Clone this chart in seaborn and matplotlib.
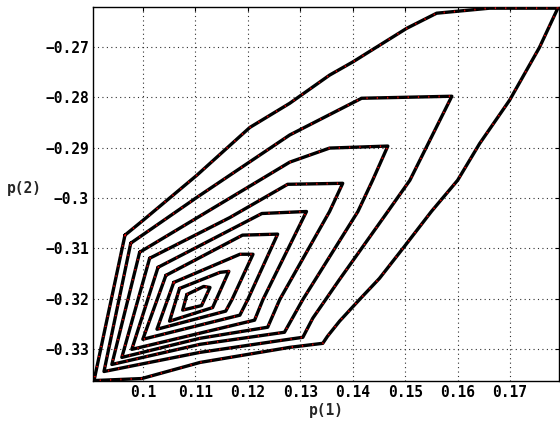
import matplotlib
matplotlib.use("Agg")
import matplotlib.pyplot as plt
import seaborn as sns
import pandas as pd

# contour rings (p(1), p(2)), innermost first
ring1_x = [0.1084, 0.1116, 0.1128, 0.1112, 0.1076, 0.1084]
ring1_y = [-0.3192, -0.3176, -0.3178, -0.3214, -0.3223, -0.3192]
ring2_x = [0.1070, 0.1147, 0.1164, 0.1133, 0.1051, 0.1070]
ring2_y = [-0.3180, -0.3148, -0.3146, -0.3218, -0.3245, -0.3180]
ring3_x = [0.1059, 0.1185, 0.1210, 0.1170, 0.1158, 0.1027, 0.1059]
ring3_y = [-0.3168, -0.3112, -0.3112, -0.3202, -0.3225, -0.3261, -0.3168]
ring4_x = [0.1044, 0.1190, 0.1257, 0.1200, 0.1185, 0.1000, 0.1044]
ring4_y = [-0.3154, -0.3074, -0.3072, -0.3202, -0.3233, -0.3281, -0.3154]
ring5_x = [0.1029, 0.1227, 0.1312, 0.1229, 0.1213, 0.0979, 0.1029]
ring5_y = [-0.3138, -0.3031, -0.3027, -0.3202, -0.3243, -0.3301, -0.3138]
ring6_x = [0.1013, 0.1166, 0.1276, 0.1381, 0.1356, 0.1261, 0.1238, 0.1109, 0.0960, 0.1013]
ring6_y = [-0.3120, -0.3039, -0.2973, -0.2971, -0.3027, -0.3202, -0.3257, -0.3279, -0.3317, -0.3120]
ring7_x = [0.0994, 0.1280, 0.1356, 0.1467, 0.1438, 0.1410, 0.1305, 0.1270, 0.1109, 0.0941, 0.0994]
ring7_y = [-0.3108, -0.2929, -0.2901, -0.2897, -0.2965, -0.3027, -0.3202, -0.3267, -0.3291, -0.3331, -0.3108]
ring8_x = [0.0977, 0.1103, 0.1280, 0.1417, 0.1589, 0.1509, 0.1467, 0.1375, 0.1324, 0.1305,
           0.1265, 0.1109, 0.0926, 0.0977]
ring8_y = [-0.3090, -0.2999, -0.2875, -0.2802, -0.2798, -0.2965, -0.3027, -0.3162, -0.3239, -0.3277,
           -0.3283, -0.3307, -0.3345, -0.3090]
ring9_x = [0.0966, 0.1000, 0.1103, 0.1204, 0.1280, 0.1356, 0.1400, 0.1503, 0.1560, 0.1661,
           0.1791, 0.1756, 0.1699, 0.1642, 0.1600, 0.1550, 0.1499, 0.1451, 0.1413, 0.1375,
           0.1352, 0.1343, 0.1280, 0.1109, 0.0998, 0.0907, 0.0966]
ring9_y = [-0.3074, -0.3045, -0.2955, -0.2860, -0.2812, -0.2756, -0.2730, -0.2663, -0.2633, -0.2623,
           -0.2623, -0.2701, -0.2806, -0.2892, -0.2965, -0.3027, -0.3096, -0.3160, -0.3202, -0.3245,
           -0.3275, -0.3289, -0.3297, -0.3327, -0.3359, -0.3363, -0.3074]

x_ticks = [0.10, 0.11, 0.12, 0.13, 0.14, 0.15, 0.16, 0.17]
x_tick_labels = ["0.1", "0.11", "0.12", "0.13", "0.14", "0.15", "0.16", "0.17"]
y_ticks = [-0.33, -0.32, -0.31, -0.30, -0.29, -0.28, -0.27]
y_tick_labels = ["\u22120.33", "\u22120.32", "\u22120.31", "\u22120.3", "\u22120.29", "\u22120.28", "\u22120.27"]

rings = [(ring1_x, ring1_y), (ring2_x, ring2_y), (ring3_x, ring3_y), (ring4_x, ring4_y),
         (ring5_x, ring5_y), (ring6_x, ring6_y), (ring7_x, ring7_y), (ring8_x, ring8_y),
         (ring9_x, ring9_y)]
rows = []
for i, (xs, ys) in enumerate(rings):
    for j, (a, b) in enumerate(zip(xs, ys)):
        rows.append({"ring": i, "order": j, "p1": a, "p2": b})
df = pd.DataFrame(rows)

sns.set_style("white")
plt.rcParams["font.family"] = ["DejaVu Sans Mono"]
plt.rcParams["font.weight"] = "bold"

fig = plt.figure(figsize=(5.6, 4.22), dpi=100)
ax = fig.add_axes([0.166, 0.097, 0.832, 0.886])

sns.lineplot(data=df, x="p1", y="p2", units="ring", estimator=None, sort=False,
             color="black", linewidth=2.4, ax=ax, zorder=3)
sns.lineplot(data=df, x="p1", y="p2", units="ring", estimator=None, sort=False,
             color="#e00000", linewidth=1.3, linestyle=(0, (0.7, 5)), ax=ax, zorder=4)

ax.set_xlim(0.0905, 0.1793)
ax.set_ylim(-0.3364, -0.2621)
ax.set_xticks(x_ticks)
ax.set_xticklabels(x_tick_labels)
ax.set_yticks(y_ticks)
ax.set_yticklabels(y_tick_labels)
ax.tick_params(direction="in", length=3, width=0.8, labelsize=10.5, pad=3,
               top=True, right=True, colors="black")
for lab in ax.get_xticklabels() + ax.get_yticklabels():
    lab.set_fontweight("bold")

ax.grid(True, color="#303030", linestyle=(0, (1, 3)), linewidth=0.8)
ax.set_axisbelow(True)
for s in ax.spines.values():
    s.set_visible(True)
    s.set_color("black")
    s.set_linewidth(1.0)

ax.set_xlabel("p(1)", fontsize=10.5, fontweight="bold", labelpad=2)
ax.set_ylabel("")
fig.text(0.013, 0.553, "p(2)", fontsize=10.5, fontweight="bold", ha="left", va="center")

fig.savefig("out.png", dpi=100)
